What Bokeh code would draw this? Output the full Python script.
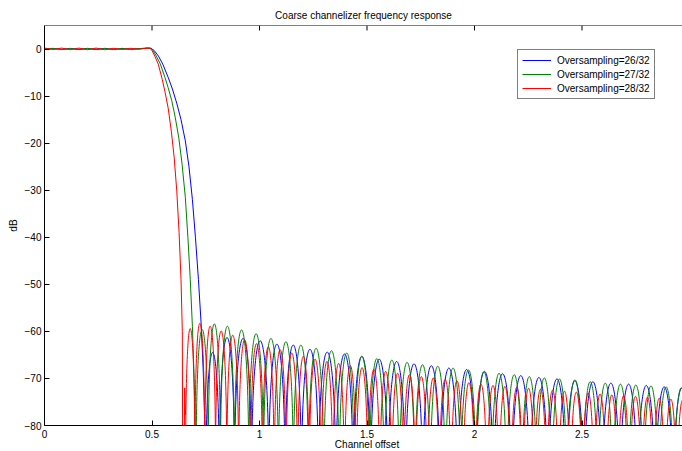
from bokeh.plotting import figure
from bokeh.models import Range1d, FixedTicker, Legend, LegendItem, Span, Label
from bokeh.embed import file_html
from bokeh.resources import INLINE

FONT = "Liberation Sans"

title_text = "Coarse channelizer frequency response"
x_label = "Channel offset"
y_label = "dB"

x_ticks = [0, 0.5, 1, 1.5, 2, 2.5]
x_tick_labels = ["0", "0.5", "1", "1.5", "2", "2.5"]
y_ticks = [0, -10, -20, -30, -40, -50, -60, -70, -80]
y_tick_labels = ["0", "\u221210", "\u221220", "\u221230", "\u221240",
                 "\u221250", "\u221260", "\u221270", "\u221280"]

series_labels = ["Oversampling=26/32", "Oversampling=27/32", "Oversampling=28/32"]
series_colors = ["#0000ff", "#008000", "#ff0000"]

# passband (common x)
pass_x = [0.0, 0.04, 0.08, 0.12, 0.16, 0.20, 0.24, 0.28, 0.32, 0.36, 0.40, 0.44]
blue_pass_db = [0.0, 0.05, -0.05, 0.05, -0.05, 0.05, -0.05, 0.05, -0.05, 0.05, -0.05, 0.05]
green_pass_db = [0.05, 0.15, -0.1, 0.15, -0.1, 0.15, -0.1, 0.15, -0.1, 0.15, -0.05, 0.1]
red_pass_db = [0.2, -0.1, 0.2, -0.15, 0.2, -0.15, 0.2, -0.15, 0.15, -0.1, 0.15, -0.05]

# band edge / transition
blue_edge_x = [0.48, 0.495, 0.51, 0.53, 0.55, 0.575, 0.595, 0.615, 0.635, 0.655, 0.672, 0.688,
               0.702, 0.716, 0.728, 0.738, 0.746, 0.750]
blue_edge_db = [0.2, 0.15, -0.3, -1.5, -3.2, -6.0, -8.5, -11.5, -15.0, -19.5, -25.0, -32.0,
                -40.0, -49.0, -58.0, -68.0, -80.0, -100.0]
green_edge_x = [0.48, 0.495, 0.505, 0.52, 0.539, 0.56, 0.575, 0.592, 0.608, 0.625, 0.640, 0.655,
                0.667, 0.678, 0.688, 0.696, 0.702, 0.705]
green_edge_db = [0.2, 0.15, -0.3, -1.5, -3.2, -6.0, -8.2, -11.0, -14.5, -19.0, -24.5, -31.5,
                 -40.0, -49.0, -59.0, -70.0, -82.0, -100.0]
red_edge_x = [0.48, 0.49, 0.50, 0.513, 0.529, 0.548, 0.560, 0.575, 0.590, 0.603, 0.615, 0.626,
              0.635, 0.641, 0.6435, 0.649, 0.652, 0.654, 0.656]
red_edge_db = [0.2, 0.15, -0.3, -1.5, -3.2, -6.5, -9.0, -12.5, -17.5, -23.0, -30.0, -39.0,
               -49.0, -60.0, -100.0, -90.0, -72.0, -75.0, -77.8]

# stopband sidelobe peaks
blue_peak_x = [0.782, 0.846, 0.922, 1.004, 1.082, 1.156, 1.234, 1.315, 1.396, 1.475, 1.557, 1.638,
               1.719, 1.799, 1.880, 1.964, 2.046, 2.130, 2.216, 2.299, 2.384, 2.467, 2.550, 2.635,
               2.717, 2.798, 2.883, 2.965]
blue_peak_db = [-64.5, -61.3, -61.5, -62.0, -62.7, -62.9, -63.8, -64.4, -64.8, -65.3, -65.9, -66.4,
                -66.9, -67.3, -67.8, -68.1, -68.5, -69.0, -69.4, -69.8, -70.1, -70.5, -70.7, -71.0,
                -71.2, -71.5, -71.8, -72.0]
green_peak_x = [0.736, 0.787, 0.850, 0.916, 0.984, 1.053, 1.123, 1.192, 1.263, 1.335, 1.406, 1.476,
                1.546, 1.615, 1.686, 1.759, 1.829, 1.900, 1.972, 2.044, 2.114, 2.185, 2.255, 2.325,
                2.394, 2.467, 2.539, 2.608, 2.678, 2.751, 2.821, 2.891, 2.962]
green_peak_db = [-59.6, -58.4, -58.9, -59.7, -60.5, -61.5, -62.2, -62.9, -63.6, -64.1, -64.6, -65.3,
                 -65.8, -66.1, -66.6, -67.1, -67.4, -67.8, -68.2, -68.6, -68.9, -69.2, -69.6, -69.9,
                 -70.1, -70.3, -70.7, -71.0, -71.2, -71.4, -71.6, -71.8, -72.0]
red_peak_x = [0.678, 0.721, 0.770, 0.821, 0.875, 0.931, 0.986, 1.041, 1.096, 1.151, 1.203, 1.259,
              1.314, 1.368, 1.422, 1.477, 1.532, 1.587, 1.643, 1.697, 1.753, 1.808, 1.864, 1.918,
              1.974, 2.030, 2.086, 2.142, 2.196, 2.252, 2.306, 2.364, 2.418, 2.474, 2.529, 2.584,
              2.639, 2.693, 2.749, 2.805, 2.859, 2.913, 2.968]
red_peak_db = [-59.4, -58.3, -58.9, -59.9, -60.8, -61.8, -62.6, -63.3, -63.9, -64.6, -65.3, -65.9,
               -66.4, -66.8, -67.3, -67.7, -68.1, -68.5, -68.9, -69.2, -69.6, -69.9, -70.2, -70.5,
               -70.9, -71.2, -71.5, -71.7, -71.9, -72.1, -72.3, -72.5, -72.7, -72.9, -73.1, -73.3,
               -73.5, -73.7, -73.8, -74.0, -74.2, -74.4, -74.6]

W, H = 682, 451
LEFT, TOP, BOTTOM = 44, 25, 24
Y0, Y1 = -80, 5
X1 = (W - LEFT) / 215.0
frame_h = H - TOP - BOTTOM
tick_len_db = 5 * (Y1 - Y0) / frame_h

p = figure(width=W, height=H, x_range=Range1d(0, X1), y_range=Range1d(Y0, Y1),
           output_backend="svg", toolbar_location=None, title=title_text,
           min_border_left=LEFT, min_border_right=0, min_border_top=TOP, min_border_bottom=BOTTOM)
p.outline_line_color = None
p.grid.visible = False
p.background_fill_color = "white"
p.border_fill_color = "white"

p.title.text_font = FONT
p.title.text_font_size = "10px"
p.title.text_font_style = "normal"
p.title.text_color = "black"
p.title.align = "center"
p.title.standoff = 10

xa = p.xaxis[0]
xa.ticker = FixedTicker(ticks=x_ticks)
xa.major_label_overrides = {t: s for t, s in zip(x_ticks, x_tick_labels)}
ya = p.yaxis[0]
ya.ticker = FixedTicker(ticks=y_ticks)
ya.major_label_overrides = {t: s for t, s in zip(y_ticks, y_tick_labels)}
ya.axis_label = y_label
for ax in (xa, ya):
    ax.axis_label_text_font = FONT
    ax.axis_label_text_font_size = "10px"
    ax.axis_label_text_font_style = "normal"
    ax.axis_label_text_color = "black"
    ax.major_tick_in = 5
    ax.major_tick_out = 0
    ax.minor_tick_line_color = None
    ax.axis_line_color = "black"
    ax.major_tick_line_color = "black"
    ax.major_label_text_font = FONT
    ax.major_label_text_font_size = "10px"
    ax.major_label_text_color = "black"
    ax.major_label_standoff = 3
xa.major_label_standoff = 4
ya.axis_label_standoff = 3

# x-axis title placed in the panel below the axis (takes no layout room)
p.add_layout(Label(x=1.5, y=7, x_units="data", y_units="screen", text=x_label,
                   text_align="center", text_baseline="middle", text_font=FONT,
                   text_font_size="10px", text_color="black"), "below")

# top border of the box with inward ticks
p.add_layout(Span(location=Y1, dimension="width", line_color="black", line_width=1))
p.segment(x0=x_ticks, y0=[Y1] * len(x_ticks), x1=x_ticks, y1=[Y1 - tick_len_db] * len(x_ticks),
          line_color="black", line_width=1)

series = [
    (blue_pass_db, blue_edge_x, blue_edge_db, blue_peak_x, blue_peak_db),
    (green_pass_db, green_edge_x, green_edge_db, green_peak_x, green_peak_db),
    (red_pass_db, red_edge_x, red_edge_db, red_peak_x, red_peak_db),
]

items = []
for (pdb, ex, edb, kx, kdb), lbl, col in zip(series, series_labels, series_colors):
    r = p.line(pass_x + ex, pdb + edb, line_color=col, line_width=1)
    nulls = [ex[-1]] + [(kx[i] + kx[i + 1]) / 2 for i in range(len(kx) - 1)] \
        + [kx[-1] + (kx[-1] - kx[-2]) / 2]
    x0 = nulls[:-1]
    x1 = nulls[1:]
    base = [d - 30 for d in kdb]
    ctrl = [d + 10 for d in kdb]
    p.bezier(x0=x0, y0=base, x1=x1, y1=base, cx0=x0, cy0=ctrl, cx1=x1, cy1=ctrl,
             line_color=col, line_width=1)
    items.append(LegendItem(label=lbl, renderers=[r]))

legend = Legend(items=items, location=(473, 326), border_line_color="black", border_line_width=1,
                padding=4, spacing=2, margin=0, glyph_width=29, glyph_height=12, label_height=12,
                label_standoff=6, label_text_font=FONT, label_text_font_size="10px",
                label_text_color="black", background_fill_alpha=1.0)
p.add_layout(legend, "center")

open("out.html", "w").write(file_html(p, INLINE))
